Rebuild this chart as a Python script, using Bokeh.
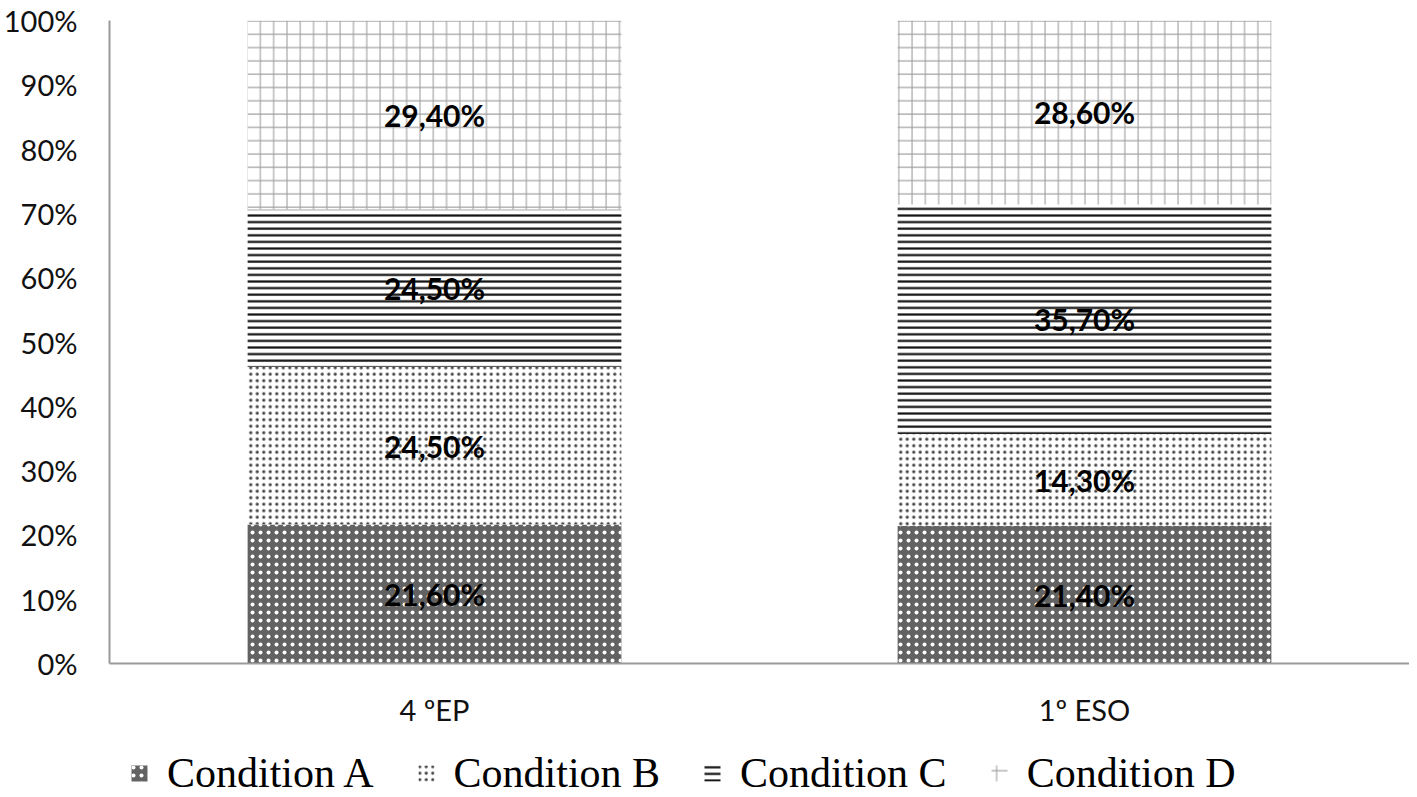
import numpy as np
from bokeh.plotting import figure
from bokeh.layouts import column
from bokeh.models import (ColumnDataSource, FactorRange, Range1d, NumeralTickFormatter,
                          FixedTicker, Legend, LegendItem, LabelSet)
from bokeh.core.properties import value
from bokeh.embed import file_html
from bokeh.resources import INLINE

categories = ["4 ºEP", "1º ESO"]
series_names = ["Condition A", "Condition B", "Condition C", "Condition D"]
cond_a = [21.6, 21.4]
cond_b = [24.5, 14.3]
cond_c = [24.5, 35.7]
cond_d = [29.4, 28.6]
y_ticks = [0, 0.1, 0.2, 0.3, 0.4, 0.5, 0.6, 0.7, 0.8, 0.9, 1.0]

series = [cond_a, cond_b, cond_c, cond_d]
styles = [
    dict(fill_color="#626262", hatch_pattern="dot", hatch_color="white", hatch_scale=8, hatch_weight=1),
    dict(fill_color="white", hatch_pattern="dot", hatch_color="#444444", hatch_scale=6.5, hatch_weight=1.2),
    dict(fill_color="white", hatch_pattern="horizontal_line", hatch_color="#111111", hatch_scale=6.6, hatch_weight=2.2),
    dict(fill_color="white", hatch_pattern="cross", hatch_color="#a0a0a0", hatch_scale=13.3, hatch_weight=1.1),
]

p = figure(x_range=FactorRange(*categories), y_range=Range1d(0, 1),
           width=1409, height=733, output_backend="svg", toolbar_location=None,
           min_border_left=103, min_border_right=0, min_border_top=20, min_border_bottom=70)

# legend strip below the chart (bars there share the data but sit outside its view)
lg = figure(width=1409, height=64, output_backend="svg", toolbar_location=None,
            x_range=FactorRange(*categories), y_range=Range1d(5, 6),
            min_border_left=0, min_border_right=0, min_border_top=0, min_border_bottom=0)
lg.axis.visible = False
lg.grid.grid_line_color = None
lg.outline_line_color = None

bottoms = np.zeros(len(categories))
leg_renderers = []
for name, vals, st in zip(series_names, series, styles):
    v = np.array(vals) / 100.0
    tops = bottoms + v
    src = ColumnDataSource(dict(x=categories, bottom=bottoms.copy(), top=tops,
                                mid=(bottoms + tops) / 2,
                                lab=[("%.2f" % x).replace(".", ",") + "%" for x in vals]))
    p.vbar(x="x", bottom="bottom", top="top", width=0.575, source=src,
           line_color=None, **st)
    leg_renderers.append(lg.vbar(x="x", bottom="bottom", top="top", width=0.575, source=src,
                                 line_color=None, **st))
    p.add_layout(LabelSet(x="x", y="mid", text="lab", source=src, text_align="center",
                          text_baseline="middle", text_font=value("Lato"), text_font_style="bold",
                          text_font_size="30px", text_color="black"))
    bottoms = tops

p.xgrid.grid_line_color = None
p.ygrid.grid_line_color = None
p.outline_line_color = None

p.yaxis.ticker = FixedTicker(ticks=y_ticks)
p.yaxis.formatter = NumeralTickFormatter(format="0%")
for ax in (p.xaxis[0], p.yaxis[0]):
    ax.axis_line_color = "#9a9a9a"
    ax.axis_line_width = 2
    ax.major_tick_line_color = None
    ax.minor_tick_line_color = None
    ax.major_label_text_font = "Lato"
    ax.major_label_text_color = "#111111"
p.yaxis.major_label_standoff = 26
p.xaxis.major_label_standoff = 22
p.yaxis.major_label_text_font_size = "29px"
p.xaxis.major_label_text_font_size = "29px"

legend = Legend(items=[LegendItem(label=n, renderers=[r]) for n, r in zip(series_names, leg_renderers)],
                orientation="horizontal", location=(20, 0), border_line_color=None,
                padding=0, margin=0, spacing=42, label_standoff=18,
                glyph_width=20, glyph_height=20,
                label_text_font="Liberation Serif", label_text_font_size="42px",
                label_text_color="black", background_fill_alpha=0)
lg.add_layout(legend, "center")

open("out.html", "w").write(file_html(column(p, lg, spacing=0), INLINE))
